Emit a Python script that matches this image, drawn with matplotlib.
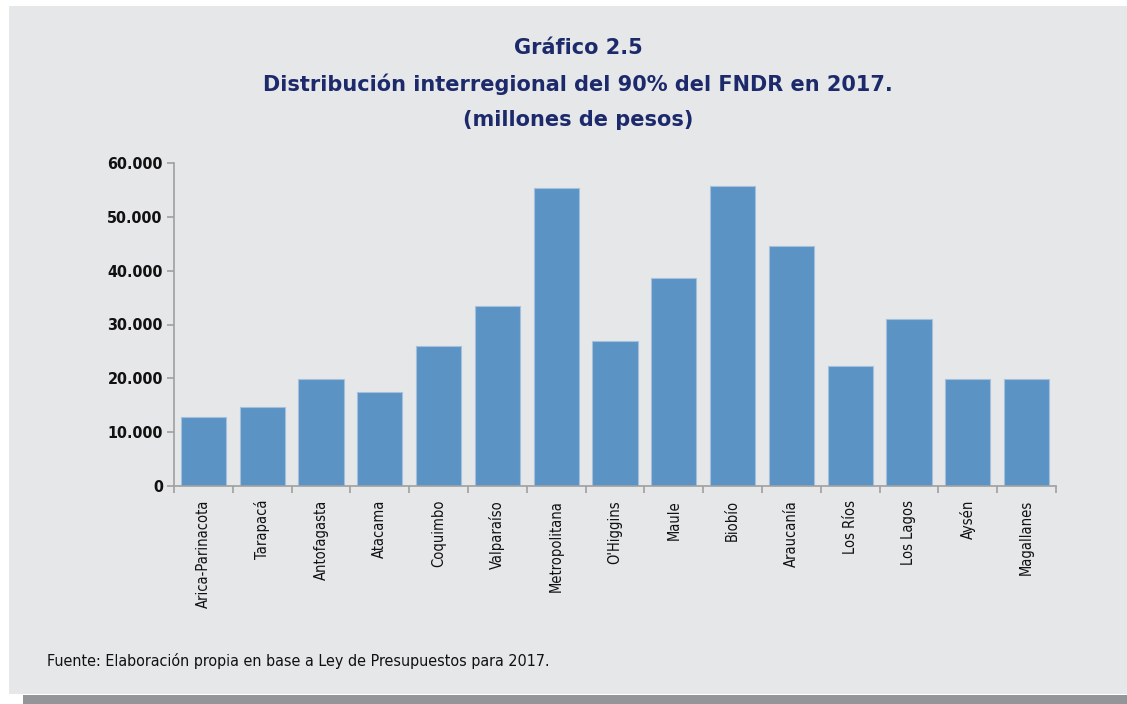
import matplotlib
matplotlib.use("Agg")
import matplotlib.pyplot as plt
from matplotlib.patches import Rectangle
from matplotlib.ticker import FixedLocator, FuncFormatter

# data (millones de pesos)
regiones = ['Arica-Parinacota', 'Tarapacá', 'Antofagasta', 'Atacama', 'Coquimbo',
            'Valparaíso', 'Metropolitana', "O'Higgins", 'Maule', 'Biobío',
            'Araucanía', 'Los Ríos', 'Los Lagos', 'Aysén', 'Magallanes']
montos = [12900, 14600, 19900, 17400, 26000, 33400, 55300, 26900, 38700,
          55800, 44500, 22300, 31000, 19900, 19900]
y_ticks = [0, 10000, 20000, 30000, 40000, 50000, 60000]

titulo = 'Gráfico 2.5\nDistribución interregional del 90% del FNDR en 2017.\n(millones de pesos)'
fuente = 'Fuente: Elaboración propia en base a Ley de Presupuestos para 2017.'

bg = '#e6e7e9'
navy = '#1c2a6b'

fig = plt.figure(figsize=(11.27, 7.04), dpi=100)
fig.patch.set_facecolor('white')

# grey panel and the darker strip at the bottom
fig.add_artist(Rectangle((9 / 1127, 1 - 694 / 704), 1 - 9 / 1127, (694 - 6) / 704,
                         transform=fig.transFigure, facecolor=bg, edgecolor='none', zorder=0))
fig.add_artist(Rectangle((23 / 1127, 0), 1 - 23 / 1127, 9 / 704,
                         transform=fig.transFigure, facecolor='#939598', edgecolor='none', zorder=0))

ax = fig.add_axes([174 / 1127, 1 - 486 / 704, 882 / 1127, 323 / 704])
ax.set_facecolor('none')

x = range(len(regiones))
ax.bar(x, montos, width=0.77, color='#5b93c5', edgecolor='#a3c0dc', linewidth=0.8, zorder=2)

ax.set_xlim(-0.5, len(regiones) - 0.5)
ax.set_ylim(0, 60000)

for s in ['top', 'right']:
    ax.spines[s].set_visible(False)
for s in ['left', 'bottom']:
    ax.spines[s].set_color('#a0a0a0')
    ax.spines[s].set_linewidth(1.2)

ax.yaxis.set_major_locator(FixedLocator(y_ticks))
ax.yaxis.set_major_formatter(FuncFormatter(lambda v, p: f'{int(v):,}'.replace(',', '.')))
ax.tick_params(axis='y', length=5, color='#a0a0a0', width=1.2, pad=3)
for lab in ax.get_yticklabels():
    lab.set_fontstretch('condensed')
    lab.set_fontweight('bold')
    lab.set_fontsize(11.5)
    lab.set_color('#111111')

# ticks between categories, labels centred under bars
ax.set_xticks([i - 0.5 for i in range(len(regiones) + 1)])
ax.set_xticklabels([])
ax.set_xticks(list(x), minor=True)
ax.set_xticklabels(regiones, minor=True, rotation=90, fontstretch='condensed',
                   fontsize=10.5, color='#111111', va='top')
ax.tick_params(axis='x', which='major', length=5, color='#a0a0a0', width=1.2)
ax.tick_params(axis='x', which='minor', length=0, pad=10)

fig.text(0.513, 1 - 38 / 704, titulo, ha='center', va='top', fontsize=15,
         fontweight='bold', color=navy, linespacing=1.9, fontfamily='DejaVu Sans')

fig.text(47 / 1127, 1 - 661 / 704, fuente, ha='left', va='center', fontsize=11.5,
         fontstretch='condensed', color='#111111', fontfamily='DejaVu Sans')

fig.savefig('out.png', dpi=100, facecolor=fig.get_facecolor())
